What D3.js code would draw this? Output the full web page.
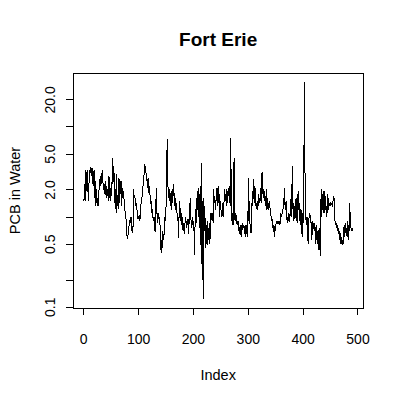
<!DOCTYPE html>
<html><head><meta charset="utf-8">
<script src="https://cdn.jsdelivr.net/npm/d3@7"></script>
<style>body{margin:0;background:#fff}svg{display:block}text{font-family:"Liberation Sans",Arial,sans-serif;fill:#000}</style>
</head><body>
<svg id="c" width="401" height="400"></svg>
<script>
const title = "Fort Erie";
const xLabel = "Index";
const yLabel = "PCB in Water";
const xTicks = [0, 100, 200, 300, 400, 500];
const yTicks = [0.1, 0.2, 0.5, 1, 2, 5, 10, 20];
const yTickLabels = {0.1: "0.1", 0.5: "0.5", 2: "2.0", 5: "5.0", 20: "20.0"};
const pcb = [
1.5,1.6,2.3,1.5,3.3,2.0,1.9,3.3,1.6,1.5,
3.3,3.0,3.2,3.5,3.3,2.8,3.5,2.2,3.0,
3.3,1.6,2.5,1.3,2.0,1.4,1.6,1.3,1.8,
2.0,2.6,2.2,2.8,2.3,2.9,3.3,2.4,2.0,
2.2,1.8,2.5,1.9,1.6,2.2,1.7,2.0,1.5,
2.8,1.6,2.0,1.5,2.4,1.7,3.0,4.5,2.4,
3.2,2.3,1.4,2.0,1.1,3.0,1.3,1.6,1.2,
2.7,1.4,2.6,1.8,2.5,1.3,2.1,1.6,1.9,
1.7,1.4,1.2,1.0,0.95,0.7,0.6,0.58,0.65,
0.72,0.85,0.92,0.85,1.0,0.95,0.7,0.68,0.8,
2.0,1.6,1.7,1.5,1.3,1.4,1.2,1.0,0.95,
0.95,1.05,0.9,0.98,1.3,1.5,1.6,1.9,2.2,
2.5,3.0,3.8,3.3,3.6,2.6,2.7,2.1,2.6,
2.7,1.8,2.2,1.6,1.4,1.5,1.1,1.2,1.0,
0.9,1.0,0.8,0.68,0.75,2.1,1.2,1.0,0.85,
1.1,0.95,1.0,0.8,0.6,0.4,0.55,0.45,0.7,
0.6,0.55,0.8,1.0,0.9,1.3,2.0,7.2,
3.4,1.6,1.9,1.5,2.0,1.3,1.7,1.2,2.0,1.4,1.8,2.3,1.5,
1.3,1.6,1.2,1.4,1.1,0.9,1.0,0.58,1.2,1.5,
1.0,0.9,1.1,0.8,1.0,0.7,0.85,0.65,0.8,
0.9,1.0,0.75,0.9,0.8,0.95,0.65,0.85,1.1,
1.6,1.0,0.85,0.75,1.0,0.8,0.9,0.7,0.38,
0.9,1.2,0.85,1.4,1.9,1.2,2.1,1.0,1.8,
0.7,2.2,0.3,3.9,0.2,1.5,0.121,1.6,
0.7,1.0,0.45,0.8,0.5,0.9,0.48,0.75,0.55,0.85,0.5,0.9,
1.1,1.0,0.9,1.1,0.85,2.0,1.4,1.7,1.2,
1.5,1.6,2.1,1.3,2.2,1.4,1.8,1.0,1.5,
1.2,1.1,1.0,1.4,1.2,1.0,1.7,2.0,1.5,
1.8,1.3,2.0,1.4,1.9,1.7,2.2,1.6,1.3,
7.5,1.2,0.9,1.1,0.8,1.0,4.5,1.0,0.9,
1.1,1.0,0.85,0.8,0.9,0.85,0.7,0.65,0.8,
0.62,0.8,0.6,0.85,0.8,0.75,0.8,0.65,0.8,
0.6,0.8,0.65,0.75,0.6,2.7,0.9,1.5,0.85,
0.7,0.65,1.2,1.5,1.3,2.6,1.7,1.4,2.2,
1.6,1.3,1.4,1.2,1.5,1.3,1.8,1.4,1.6,
1.5,2.1,1.4,3.1,1.8,2.0,1.6,1.9,1.5,
1.7,1.3,2.0,1.2,1.6,1.4,1.2,1.5,1.3,
1.2,1.1,0.9,1.0,0.75,0.8,0.68,0.78,0.6,0.75,
0.8,0.85,0.9,0.82,0.88,0.85,0.9,0.8,0.85,
1.1,1.05,1.0,1.2,1.1,1.6,1.3,2.1,1.4,
1.2,1.5,1.0,0.85,1.0,0.9,1.1,0.88,1.0,
1.3,1.65,1.0,3.6,1.2,1.4,0.9,1.3,0.95,
1.1,1.6,0.9,1.8,0.85,1.5,1.9,0.9,1.4,
0.8,1.2,1.0,0.6,1.1,0.85,0.95,
31.4,5.5,1.0,
0.95,0.8,1.0,0.75,0.5,0.9,1.0,
1.1,0.85,1.05,0.55,0.6,0.9,0.8,0.85,0.7,
0.85,0.7,0.5,0.8,0.55,0.7,0.5,0.43,0.75,
0.6,0.37,1.2,2.0,1.0,1.8,1.2,1.9,1.1,
1.9,1.2,1.7,1.0,1.3,1.1,1.8,1.2,1.3,
1.4,1.3,1.4,1.35,1.4,1.3,1.35,1.7,1.5,
1.6,0.9,0.8,0.85,0.75,0.8,0.7,0.75,0.65,
0.7,0.55,0.65,0.5,0.6,0.48,0.55,0.5,0.75,
0.8,0.6,0.85,0.7,0.75,0.6,0.9,0.55,0.8,
0.7,1.4,0.8,0.75,0.7,0.75,0.7
];

const svg = d3.select("#c");
const L = 73, R = 363.3, T = 73, B = 308;
const n = pcb.length;
const xr = n - 1;
const x = d3.scaleLinear().domain([1 - 0.04 * xr, n + 0.04 * xr]).range([L, R]);
const lmin = Math.log10(d3.min(pcb)), lmax = Math.log10(d3.max(pcb));
const ld = lmax - lmin;
const y = d3.scaleLog().domain([Math.pow(10, lmin - 0.04 * ld), Math.pow(10, lmax + 0.04 * ld)]).range([B, T]);

const line = d3.line().x((d, i) => x(i + 1)).y(d => y(d));
svg.append("path").datum(pcb).attr("d", line)
  .attr("fill", "none").attr("stroke", "#000").attr("stroke-width", 1)
  .attr("shape-rendering", "crispEdges");

svg.append("rect").attr("x", L).attr("y", T).attr("width", R - L).attr("height", B - T)
  .attr("fill", "none").attr("stroke", "#000").attr("stroke-width", 1)
  .attr("shape-rendering", "crispEdges");

// x axis
const xa = svg.append("g").attr("transform", `translate(0,${B})`)
  .call(d3.axisBottom(x).tickValues(xTicks).tickSize(7).tickPadding(19).tickFormat(d3.format("d")));
xa.select(".domain").attr("d", `M${x(0)},0H${x(500)}`);
xa.selectAll("text").attr("font-size", 14).attr("font-family", "Liberation Sans, Arial, sans-serif");

// y axis
const ya = svg.append("g").attr("transform", `translate(${L},0)`)
  .call(d3.axisLeft(y).tickValues(yTicks).tickSize(7).tickFormat(d => yTickLabels[d] || ""));
ya.select(".domain").attr("d", `M0,${y(0.1)}V${y(20)}`);
ya.selectAll(".tick text")
  .attr("font-size", 14).attr("font-family", "Liberation Sans, Arial, sans-serif")
  .attr("text-anchor", "middle").attr("x", null).attr("dy", null)
  .attr("transform", "translate(-18,0) rotate(-90)");

svg.selectAll(".domain, .tick line").attr("stroke", "#000").attr("shape-rendering", "crispEdges");

svg.append("text").attr("x", (L + R) / 2).attr("y", 46).attr("text-anchor", "middle")
  .attr("font-size", 19).attr("font-weight", "bold").text(title);
svg.append("text").attr("x", (L + R) / 2).attr("y", 380).attr("text-anchor", "middle")
  .attr("font-size", 14.5).text(xLabel);
svg.append("text").attr("transform", `translate(20,${(T + B) / 2}) rotate(-90)`).attr("text-anchor", "middle")
  .attr("font-size", 14.5).text(yLabel);
</script>
</body></html>
